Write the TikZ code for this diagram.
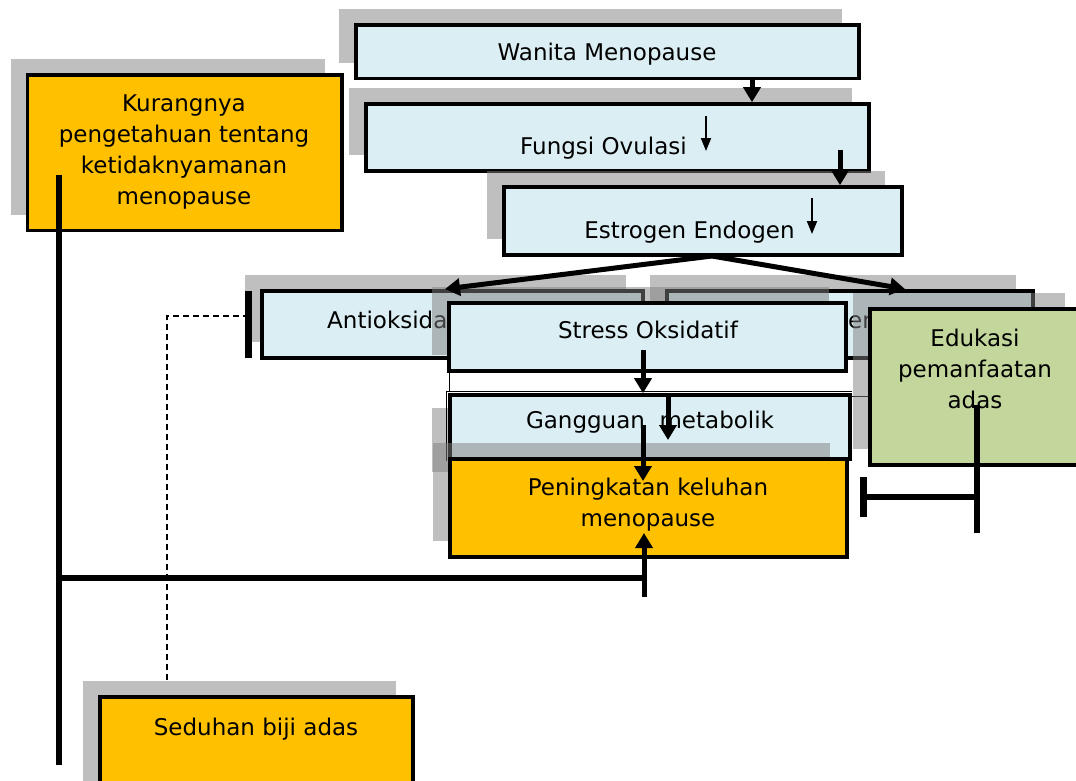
\documentclass[tikz,border=0pt]{standalone}
\usepackage{fontspec}
\setmainfont{DejaVu Sans}
\usetikzlibrary{arrows.meta,shadows}

\definecolor{paleblue}{HTML}{DAEEF3}
\definecolor{boxorange}{HTML}{FFC000}
\definecolor{boxgreen}{HTML}{C3D69B}

\tikzset{
  box/.style={draw=black, line width=3.6pt, inner sep=0pt},
  shadowed/.style={drop shadow={shadow xshift=-17pt, shadow yshift=16pt}},
  bluebox/.style={box, fill=paleblue},
  orangebox/.style={box, fill=boxorange},
  greenbox/.style={box, fill=boxgreen},
  txt/.style={inner sep=0pt, align=center, font=\fontsize{23}{31}\selectfont},
  flow/.style={line width=5pt, -{Triangle[length=15pt,width=17pt]}},
  smallflow/.style={line width=2pt, -{Triangle[length=13pt,width=10pt]}},
  link/.style={line width=5.5pt},
  blockbar/.style={line width=7pt},
  dashline/.style={line width=1.5pt, dash pattern=on 6pt off 4pt},
  hairline/.style={line width=0.8pt}
}

\begin{document}
\begin{tikzpicture}[x=1pt,y=-1pt]
        \useasboundingbox (0,0) rectangle (1076,780);
        \clip (0,0) rectangle (1076,780);

        % Top chain
        \node[bluebox, shadowed, minimum width=503pt, minimum height=53.5pt] (wanita) at (607.5,51.75) {};
        \node[txt, anchor=base] (wanitaText) at (607,60.5) {Wanita Menopause};

        \node[bluebox, shadowed, minimum width=503pt, minimum height=67pt] (fungsi) at (617.5,137.5) {};
        \node[txt, anchor=base] (fungsiText) at (603.5,154.5) {Fungsi Ovulasi};

        \node[bluebox, shadowed, minimum width=398pt, minimum height=68pt] (estrogen) at (703,221) {};
        \node[txt, anchor=base] (estrogenText) at (689.5,238.5) {Estrogen Endogen};

        % Left cause
        \node[orangebox, shadowed, minimum width=314.5pt, minimum height=155.5pt] (kurang) at (184.75,152.75) {};
        \node[txt] (kurangText) at (184,152) {Kurangnya\\pengetahuan tentang\\ketidaknyamanan\\menopause};

        % Second row
        \node[bluebox, shadowed, minimum width=381pt, minimum height=67pt] (antioksidan) at (452.5,324.5) {};
        \node[txt, anchor=base west] (antioksidanText) at (327,328.5) {Antioksidan};

        \node[bluebox, shadowed, minimum width=366pt, minimum height=67pt] (oksidan) at (850,324.5) {};
        \node[txt, anchor=base west] (oksidanText) at (848,328) {en};

        \node[bluebox, shadowed, minimum width=397pt, minimum height=68pt] (stress) at (647.5,337) {};
        \node[txt, anchor=base] (stressText) at (648,338.5) {Stress Oksidatif};

        % Metabolic box, its shadow sits lower
        \node[bluebox, drop shadow={shadow xshift=-18pt, shadow yshift=-13pt},
              minimum width=400pt, minimum height=64pt] (gangguan) at (650,427) {};
        \node[txt, anchor=base] (gangguanText) at (650,428.5) {Gangguan\ \ metabolik};
        \draw[hairline] (449,372) -- (449,391);
        \draw[hairline] (446.5,461) -- (446.5,391) -- (852,391);
        \draw[hairline] (852,396.5) -- (870,396.5);

        \node[orangebox, shadowed, minimum width=397pt, minimum height=98pt] (keluhan) at (648.5,508) {};
        \node[txt] (keluhanText) at (648,505) {Peningkatan keluhan\\menopause};

        \node[greenbox, shadowed, minimum width=212pt, minimum height=156pt] (edukasi) at (976,387) {};
        \node[txt] (edukasiText) at (975,369) {Edukasi\\pemanfaatan\\adas};

        \node[orangebox, shadowed, minimum width=313pt, minimum height=103pt] (seduhan) at (256.5,748.5) {};
        \node[txt, anchor=base] (seduhanText) at (256,735) {Seduhan biji adas};

        % Points used by the connectors
        \coordinate (wanitaOut) at (752,79);
        \coordinate (fungsiOut) at (840,150);
        \coordinate (fungsiDownA) at (706,116);
        \coordinate (fungsiDownB) at (706,151);
        \coordinate (estrogenDownA) at (812,198);
        \coordinate (estrogenDownB) at (812,234);
        \coordinate (estrogenOut) at (712,256);
        \coordinate (antioksidanIn) at (445,289);
        \coordinate (oksidanIn) at (905,289);
        \coordinate (stressOut) at (643,350);
        \coordinate (gangguanDownA) at (668,397);
        \coordinate (gangguanDownB) at (668,440);
        \coordinate (gangguanOut) at (643,425);
        \coordinate (keluhanTop) at (643,481);
        \coordinate (kurangOut) at (59,175);
        \coordinate (kurangEnd) at (59,765);
        \coordinate (kurangJoin) at (59,578);
        \coordinate (keluhanJoin) at (644,578);
        \coordinate (keluhanFoot) at (644,597);
        \coordinate (keluhanIn) at (644,533);
        \coordinate (seduhanOut) at (167,680);
        \coordinate (antioksidanBar) at (248,316);
        \coordinate (edukasiOut) at (977,405);
        \coordinate (edukasiEnd) at (977,533);
        \coordinate (edukasiJoin) at (975,497);
        \coordinate (keluhanBar) at (863,497);

        % Down the chain
        \draw[flow] (wanitaOut) -- (wanitaOut |- fungsi.north);
        \draw[flow] (fungsiOut) -- (fungsiOut |- estrogen.north);
        \draw[smallflow] (fungsiDownA) -- (fungsiDownB);
        \draw[smallflow] (estrogenDownA) -- (estrogenDownB);

        % Split to both boxes
        \draw[flow] (estrogenOut) -- (antioksidanIn);
        \draw[flow] (estrogenOut) -- (oksidanIn);

        \draw[flow] (stressOut) -- (stressOut |- gangguan.north);
        \draw[flow] (gangguanDownA) -- (gangguanDownB);
        \draw[flow] (gangguanOut) -- (keluhanTop);

        % Knowledge line into the complaints
        \draw[link] (kurangOut) -- (kurangEnd);
        \draw[link] (kurangJoin) -- (keluhanJoin);
        \draw[flow] (keluhanFoot) -- (keluhanIn);

        % Infusion blocks the antioxidant box
        \draw[dashline] (seduhanOut) |- (antioksidanBar);
        \draw[blockbar] (antioksidanBar) ++(0,-25) -- ++(0,67);

        % Education blocks the complaints
        \draw[link] (edukasiOut) -- (edukasiEnd);
        \draw[link] (edukasiJoin) -- (keluhanBar);
        \draw[blockbar] (keluhanBar) ++(0,-20) -- ++(0,40);
    \end{tikzpicture}
\end{document}
